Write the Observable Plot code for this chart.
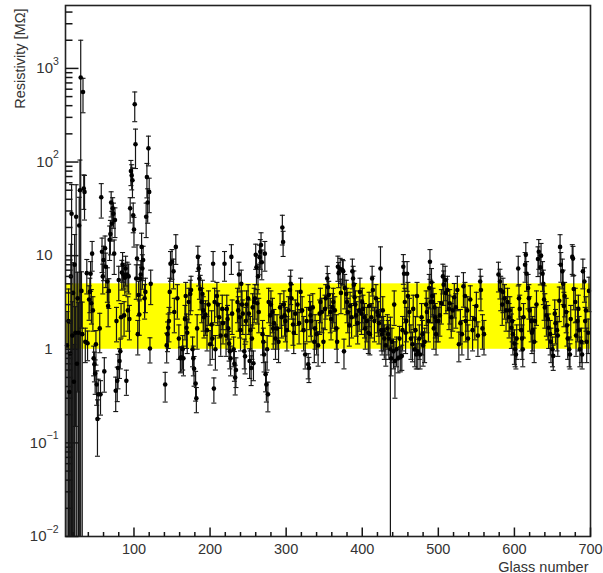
<!DOCTYPE html>
<html><head><meta charset="utf-8">
<script src="https://cdn.jsdelivr.net/npm/d3@7"></script>
<script src="https://cdn.jsdelivr.net/npm/@observablehq/plot@0.6"></script>
<style>body{margin:0;background:#fff}</style>
</head><body><div id="chart"></div>
<script>
const glass = [
12,14,15,16,17,18,19,20,21,22,
23,24,25,26,27,28,29,30,31,32,
33,34,35,36,38,39,41,42,43,44,
45,46,47,48,49,50,51,52,53,55,
56,57,58,59,60,61,62,63,65,66,
67,68,69,70,71,72,73,74,75,76,
77,78,79,80,81,82,83,84,85,86,
87,88,89,90,91,92,93,94,95,96,
97,98,99,100,101,102,103,104,105,106,
107,108,109,110,111,112,114,115,116,117,
118,119,120,121,122,141,143,144,145,146,
147,148,150,152,153,155,157,159,161,162,
164,165,167,168,169,170,172,174,175,177,
178,179,181,182,183,184,185,186,187,189,
190,191,192,194,196,198,200,202,203,204,
205,206,207,209,210,212,214,216,217,219,
221,222,223,224,225,226,227,228,229,231,
232,233,234,236,237,238,239,240,241,242,
243,245,246,247,248,250,251,252,253,254,
255,256,257,258,259,260,261,262,263,264,
265,266,267,268,269,270,271,272,273,274,
275,276,277,279,280,282,283,284,286,288,
290,292,294,295,296,297,298,299,301,303,
305,306,307,309,310,312,315,317,319,321,
323,325,327,329,330,331,332,333,335,337,
338,340,342,344,345,347,349,351,352,354,
355,356,358,359,361,362,364,366,367,368,
369,371,372,374,375,376,377,379,380,381,
383,384,386,387,388,389,390,391,392,394,
396,397,399,400,401,403,404,406,408,409,
410,412,413,414,416,418,420,421,422,424,
425,426,427,428,429,431,433,434,435,437,
438,439,441,442,443,445,447,449,450,452,
453,454,455,456,457,458,459,460,462,464,
466,467,469,470,471,472,473,475,476,478,
479,480,482,484,485,487,488,489,490,491,
492,493,494,495,496,497,498,500,502,504,
506,507,509,510,512,514,515,517,519,521,
523,525,527,529,531,533,535,536,538,539,
542,545,548,550,552,555,556,558,560,579,
581,582,584,585,587,589,591,593,594,596,
597,598,600,601,602,603,605,606,607,609,
610,611,612,614,615,616,618,619,620,622,
623,624,626,627,629,631,632,634,635,637,
638,639,640,642,644,645,647,648,650,651,
653,654,656,657,659,660,661,663,664,665,
666,668,669,670,672,673,674,676,677,678,
680,681,683,684,685,686,688,689,690,692,
693,694,695,697,698
];
const resistivity = [
1.1,2.0,0.35,0.9,6.0,28,1.4,4.0,0.45,8,
1.5,26,0.7,3.5,1.5,21,50,800,4.2,1.45,
560,52,48,1.2,6.5,1.16,3.4,4.1,6.4,3.1,
10.5,2.6,0.8,0.69,0.55,1.13,0.42,0.18,0.33,1.67,
0.33,42,11,6,9,0.58,12,7.6,5.3,2.9,
4.2,14.8,17,37,22,32,28,10.5,24,0.36,
2,0.46,0.63,5.5,0.75,0.95,2.2,6.6,8,6.3,
2.3,5.8,7.3,0.46,6.3,2.6,6,2.1,32,80,
72,64,27,19,415,155,5.7,9.3,1.45,3.8,
2.35,5.7,6.3,12.4,7.3,9,3.5,4.1,26,69,
37,140,48,1.02,5,0.42,1.1,1.45,1.7,2,
4.1,8.2,8.6,6.8,2.5,12.4,3.5,1.3,0.8,0.82,
1,0.8,2.1,3.7,1.7,1.5,3.2,3.9,4.3,1,
0.8,0.62,0.43,0.3,1.67,9.7,7.3,5.7,4.4,3.2,
3.9,2.6,2.2,2.35,1.6,3,1.13,1.84,1.3,8.2,
0.38,3.2,1,3.7,3,2.2,1.4,2.7,1.9,8.2,
1.4,2.7,2.1,1.67,1.15,0.95,0.8,9.7,2.4,1,
0.7,0.5,0.6,3.2,2.6,6.3,2.2,1.6,5,3,
2.4,0.95,0.84,2,3,3.5,2.4,0.75,1.6,0.63,
1.3,2.8,0.71,3.2,3.5,10.2,7.5,3.1,6,2.5,
9.6,11,13,8.5,1.45,1.2,0.88,10.5,0.54,0.42,
1,0.33,3.2,2.3,3,2.5,1.67,1.9,1.3,1.67,
1.2,2.8,2.2,20,14,3,2.3,2,1.6,2.6,
4.3,5,3.5,1.84,1.5,2.4,3,1.9,4.1,2.6,
1.6,0.88,2,0.69,0.63,2.7,2.3,2,2.8,1.2,
1.67,1.45,1.1,2.4,3.2,2.5,1.2,2.7,3.5,5.7,
4.6,3.8,2.5,2.1,2.8,3.2,2.6,1.67,1.2,7.6,
6.5,7.2,4,7,6.8,0.95,4.5,3.9,3.2,2.5,
1.8,2.9,2.2,6.8,5.7,4.9,3.6,3,2.3,1.9,
2.6,4.1,2.4,3.2,2.7,2.2,1.67,2,1.5,2.9,
1.45,2.2,5.7,4.3,2,3.5,2.5,2.3,1.9,7.3,
1.6,1.45,2.6,1.6,1.3,1.1,1.67,1.45,1.3,1,
0.8,1.2,0.95,3,0.75,1,0.8,1.3,0.82,0.85,
1.6,7.6,6.4,3.2,1.5,2,6.4,3.7,2.5,1.3,
1.13,2.7,1,1.6,0.88,3.7,0.95,1.3,0.88,2.2,
1.45,1.1,1.2,3,2.5,2,4.5,8.6,3.2,5.2,
3.7,3.2,1.67,2.8,2.2,1.45,2,2,2.3,3.1,
6,4.9,5.5,4,4.3,2.7,3.1,2.2,2.6,3.6,
2.8,4.3,1.13,1.9,1.45,4.7,3.7,2,2.6,1.3,
3.4,1.6,2.1,2.9,1.4,5.3,4.3,1.67,1.45,6.3,
5.3,4.3,3,4.1,3.5,2.6,3.2,2.2,2.6,1.7,
2,1.45,1.15,1,0.88,1.3,7.3,3.5,2.7,1.6,
1.3,1,2.2,8,10.2,6.4,4.5,3.5,2.6,2,
1.5,1.6,1.2,2,3,9.2,11,7.5,10,6.4,
5,3.4,2.8,2.3,2.1,1.7,1.45,1.2,1,0.85,
2.4,1.9,1.6,1.4,3.3,12.4,8,6.8,5,2.9,
3.7,2.5,1.8,1.3,1,0.88,2.1,9.7,9.3,4.4,
3.2,1.4,2,2.7,1.6,1,1.2,0.88,6.8,5.3,
2,2.6,1.2,1.5,4.2
];
const relError = [
1.3,1.2,1.6,1.1,1.2,1.05,1.3,1.1,1.5,1.1,
0.9,1.2,1.2,0.9,1.1,1.0,1.1,1.5,0.6,1.2,
0.4,0.4,0.5,0.4,0.4,0.35,0.4,0.4,0.35,0.4,
0.35,0.4,0.35,0.35,0.4,0.4,0.4,0.6,0.45,0.45,
0.4,0.4,0.4,0.35,0.4,0.4,0.35,0.4,0.4,0.4,
0.35,0.4,0.4,0.3,0.35,0.3,0.3,0.4,0.35,0.4,
0.4,0.4,0.4,0.4,0.35,0.35,0.4,0.35,0.35,0.3,
0.4,0.35,0.35,0.3,0.35,0.4,0.35,0.4,0.3,0.3,
0.3,0.35,0.35,0.35,0.35,0.45,0.4,0.4,0.4,0.4,
0.4,0.4,0.4,0.4,0.4,0.4,0.4,0.4,0.4,0.4,
0.4,0.35,0.4,0.3,0.4,0.35,0.35,0.35,0.4,0.4,
0.4,0.35,0.35,0.35,0.4,0.35,0.4,0.4,0.3,0.3,
0.4,0.35,0.4,0.4,0.4,0.4,0.4,0.4,0.4,0.35,
0.35,0.35,0.35,0.3,0.4,0.3,0.35,0.4,0.4,0.4,
0.4,0.4,0.4,0.4,0.4,0.4,0.4,0.4,0.4,0.35,
0.3,0.4,0.4,0.4,0.4,0.4,0.4,0.4,0.4,0.35,
0.4,0.4,0.4,0.4,0.35,0.35,0.35,0.35,0.4,0.35,
0.35,0.35,0.35,0.4,0.4,0.35,0.4,0.4,0.4,0.4,
0.4,0.35,0.35,0.4,0.4,0.4,0.4,0.35,0.4,0.35,
0.4,0.4,0.35,0.4,0.4,0.3,0.35,0.4,0.35,0.4,
0.35,0.35,0.35,0.35,0.4,0.4,0.35,0.35,0.35,0.35,
0.4,0.35,0.4,0.4,0.4,0.4,0.4,0.4,0.4,0.4,
0.4,0.4,0.4,0.35,0.3,0.4,0.4,0.4,0.4,0.4,
0.4,0.4,0.4,0.4,0.4,0.4,0.4,0.4,0.4,0.4,
0.4,0.3,0.4,0.3,0.3,0.4,0.4,0.4,0.4,0.4,
0.4,0.4,0.4,0.4,0.4,0.4,0.4,0.4,0.4,0.35,
0.4,0.4,0.4,0.4,0.4,0.4,0.4,0.4,0.4,0.3,
0.3,0.3,0.4,0.3,0.3,0.35,0.4,0.4,0.4,0.4,
0.4,0.4,0.4,0.35,0.35,0.4,0.4,0.4,0.4,0.4,
0.4,0.4,0.4,0.4,0.4,0.4,0.4,0.4,0.4,0.4,
0.4,0.4,0.35,0.4,0.4,0.4,0.4,0.4,0.4,0.7,
0.4,0.4,0.4,0.4,0.4,0.4,0.4,0.4,0.4,1.2,
0.35,0.4,0.35,0.4,0.6,0.35,0.3,0.35,0.3,0.3,
0.4,0.35,0.35,0.4,0.4,0.4,0.35,0.4,0.4,0.4,
0.35,0.4,0.35,0.4,0.3,0.4,0.35,0.4,0.3,0.4,
0.4,0.4,0.4,0.4,0.4,0.4,0.4,0.35,0.4,0.4,
0.4,0.4,0.4,0.4,0.4,0.4,0.4,0.4,0.4,0.4,
0.35,0.4,0.4,0.4,0.4,0.4,0.4,0.4,0.4,0.4,
0.4,0.4,0.35,0.4,0.4,0.4,0.4,0.4,0.4,0.4,
0.4,0.4,0.4,0.4,0.4,0.35,0.4,0.4,0.4,0.35,
0.35,0.4,0.4,0.4,0.4,0.4,0.4,0.4,0.4,0.4,
0.4,0.4,0.4,0.35,0.3,0.4,0.35,0.4,0.4,0.4,
0.4,0.35,0.4,0.35,0.35,0.35,0.4,0.4,0.4,0.4,
0.4,0.4,0.4,0.4,0.4,0.35,0.35,0.35,0.35,0.35,
0.4,0.4,0.4,0.4,0.4,0.4,0.4,0.4,0.35,0.3,
0.4,0.4,0.4,0.4,0.4,0.35,0.35,0.35,0.4,0.4,
0.4,0.4,0.4,0.4,0.35,0.3,0.4,0.35,0.35,0.4,
0.4,0.4,0.4,0.4,0.4,0.35,0.4,0.3,0.35,0.4,
0.4,0.4,0.4,0.4,0.4
];
const band = [{low: 1, high: 5}];
const xTickValues = [100, 200, 300, 400, 500, 600, 700];
const xTickLabels = ["100", "200", "300", "400", "500", "600", "700"];
const yTickValues = [0.01, 0.1, 1, 10, 100, 1000];
const yTickBase = ["10", "10", "1", "10", "10", "10"];
const yTickExp = ["\u22122", "\u22121", "", "", "2", "3"];
const xTitle = "Glass number";
const yTitle = "Resistivity [M\u03A9]";

const xDomain = [10, 700];
const yDomain = [0.01, 4700];

const rows = glass.map((g, i) => {
  const v = resistivity[i], s = v * relError[i];
  return {g, v, hi: v + s, lo: v - s > 0 ? v - s : 0.0005};
});

const xMinor = d3.range(20, 700, 20).filter(d => d % 100 !== 0);
const yMinor = [];
for (let k = -2; k <= 3; k++) for (let m = 2; m <= 9; m++) {
  const v = m * Math.pow(10, k);
  if (v < yDomain[1]) yMinor.push(v);
}

const vline = (len) => ({draw(ctx) { ctx.moveTo(0, 0); ctx.lineTo(0, -len); }});
const hline = (len) => ({draw(ctx) { ctx.moveTo(0, 0); ctx.lineTo(len, 0); }});
const cap = {draw(ctx) { ctx.moveTo(-2.5, 0); ctx.lineTo(2.5, 0); }};

const font = "Liberation Sans, Arial, Helvetica, sans-serif";
const ink = "#151515";
const labelMarks = [];
yTickValues.forEach((v, i) => {
  const expW = yTickExp[i].length * 6.5;
  const end = yTickExp[i] ? 59 : 52;
  labelMarks.push(Plot.text([v], {y: d => d, frameAnchor: "left", text: () => yTickBase[i],
    textAnchor: "end", dx: -(65 - (end - expW)), fontSize: 15, fill: "#333"}));
  if (yTickExp[i]) labelMarks.push(Plot.text([v], {y: d => d, frameAnchor: "left", text: () => yTickExp[i],
    textAnchor: "start", dx: -(65 - (end - expW)), dy: -7, fontSize: 10.5, fill: "#333"}));
});

const chart = Plot.plot({
  width: 603, height: 573,
  marginLeft: 65, marginRight: 13, marginTop: 5, marginBottom: 37,
  style: {fontFamily: font, background: "white"},
  x: {domain: xDomain, axis: null},
  y: {type: "log", domain: yDomain, axis: null},
  marks: [
    Plot.rect(band, {y1: "low", y2: "high", fill: "#ffff00"}),
    Plot.ruleX(rows, {x: "g", y1: "lo", y2: "hi", stroke: ink, strokeWidth: 1.2, clip: true}),
    Plot.dot(rows, {x: "g", y: "hi", symbol: cap, stroke: ink, fill: "none", strokeWidth: 1.1, clip: true}),
    Plot.dot(rows.filter(d => d.lo > yDomain[0]), {x: "g", y: "lo", symbol: cap, stroke: ink, fill: "none", strokeWidth: 1.1}),
    Plot.dot(rows, {x: "g", y: "v", r: 2.3, fill: "black", stroke: "none"}),
    Plot.frame({stroke: "#222", strokeWidth: 1.6}),
    Plot.dot(xTickValues, {x: d => d, frameAnchor: "bottom", symbol: vline(9), stroke: ink, fill: "none"}),
    Plot.dot(xMinor, {x: d => d, frameAnchor: "bottom", symbol: vline(4.5), stroke: ink, fill: "none"}),
    Plot.dot(yTickValues, {y: d => d, frameAnchor: "left", symbol: hline(13), stroke: ink, fill: "none"}),
    Plot.dot(yMinor, {y: d => d, frameAnchor: "left", symbol: hline(7), stroke: ink, fill: "none"}),
    Plot.text(xTickValues, {x: d => d, frameAnchor: "bottom", text: (d, i) => xTickLabels[i], lineAnchor: "top", dy: 7, fontSize: 14.5, fill: "#333"}),
    ...labelMarks,
    Plot.text([xTitle], {frameAnchor: "bottom-right", text: d => d, textAnchor: "end", lineAnchor: "bottom", dy: 35, dx: -2, fontSize: 14.5, fill: "#333"}),
    Plot.text([yTitle], {frameAnchor: "top-left", text: d => d, rotate: -90, textAnchor: "end", lineAnchor: "middle", dx: -45, dy: 3, fontSize: 14.5, fill: "#333"})
  ]
});
document.getElementById("chart").append(chart);
if (glass.length !== resistivity.length || glass.length !== relError.length) {
  const p = document.createElement("p");
  p.textContent = "LENGTH MISMATCH " + glass.length + " " + resistivity.length + " " + relError.length;
  document.body.append(p);
}
</script>
</body></html>
